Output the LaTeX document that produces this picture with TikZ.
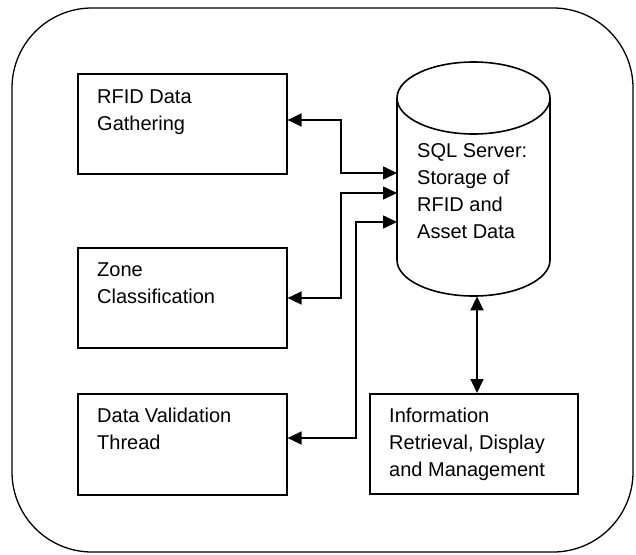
\documentclass[tikz,border=0pt]{standalone}
\usepackage{fontspec}
\setmainfont{Liberation Sans}
\usetikzlibrary{arrows.meta}
\begin{document}
\begin{tikzpicture}[x=1pt,y=-1pt,
  boxst/.style={draw,line width=1.6pt,inner sep=0pt,anchor=north west},
  txt/.style={inner sep=0pt,anchor=base west,align=left,font=\fontsize{20pt}{27pt}\selectfont},
  conn/.style={line width=1.6pt,{Triangle[length=14pt,width=13pt]}-{Triangle[length=14pt,width=13pt]}}]
\useasboundingbox (0,0) rectangle (636,554);
% outer frame
\draw[line width=1.3pt,rounded corners=80pt] (12,8) rectangle (633,552);
% boxes
\node[boxst,minimum width=209pt,minimum height=100pt] (rfid) at (77,73) {};
\node[boxst,minimum width=209pt,minimum height=100pt] (zone) at (77,247) {};
\node[boxst,minimum width=209pt,minimum height=101pt] (dv) at (77,393) {};
\node[boxst,minimum width=208pt,minimum height=100pt] (info) at (369,393) {};
% cylinder
\node[inner sep=0pt,minimum width=153pt,minimum height=234pt,anchor=north west] (sql) at (397,62) {};
\draw[line width=1.6pt] (473.5,98) ellipse[x radius=76.5,y radius=36];
\draw[line width=1.6pt] (397,98) -- (397,260) arc[start angle=180,end angle=0,x radius=76.5,y radius=36] -- (550,98);
% texts (anchor at baseline of last line)
\node[txt] (trfid) at (97,130) {RFID Data\\Gathering};
\node[txt] (tzone) at (97,303) {Zone\\Classification};
\node[txt] (tdv) at (97,449) {Data Validation\\Thread};
\node[txt] (tsql) at (417,238) {SQL Server:\\Storage of\\RFID and\\Asset Data};
\node[txt] (tinfo) at (389,476) {Information\\Retrieval, Display\\and Management};
% connectors
\coordinate (e1a) at (341,120);
\coordinate (e1b) at (341,173);
\coordinate (e2a) at (341,298);
\coordinate (e2b) at (341,193);
\coordinate (e3a) at (356,438);
\coordinate (e3b) at (356,222);
\draw[conn] (rfid.east |- e1a) -- (e1a) -- (e1b) -- (sql.west |- e1b);
\draw[conn] (zone.east |- e2a) -- (e2a) -- (e2b) -- (sql.west |- e2b);
\draw[conn] (dv.east |- e3a) -- (e3a) -- (e3b) -- (sql.west |- e3b);
\coordinate (vx) at (477,0);
\draw[conn] (vx |- sql.south) -- (vx |- info.north);
\end{tikzpicture}
\end{document}
